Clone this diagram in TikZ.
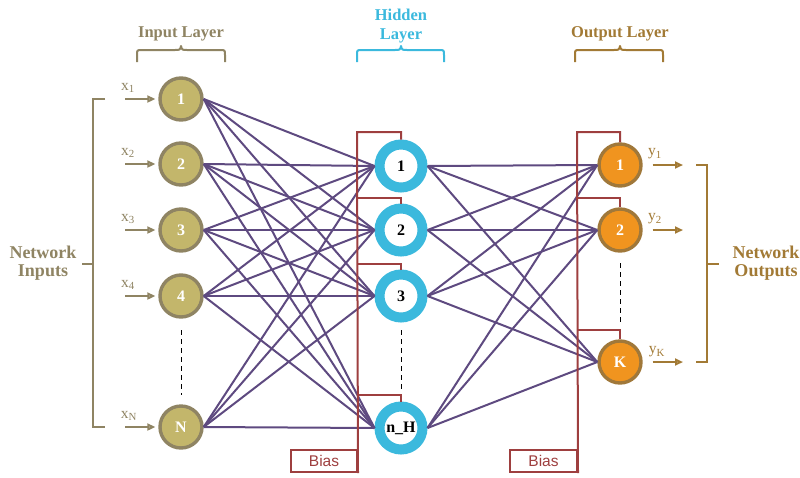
\documentclass[tikz,border=0pt]{standalone}
\usepackage{fontspec}
\setmainfont{Liberation Serif}
\newfontfamily\biasfont{Liberation Sans}
\usetikzlibrary{arrows.meta}
\definecolor{intan}{HTML}{8F8463}
\definecolor{infill}{HTML}{C3B66B}
\definecolor{linkpurple}{HTML}{5E4A80}
\definecolor{ringcyan}{HTML}{3BB9DD}
\definecolor{outfill}{HTML}{F0941F}
\definecolor{outborder}{HTML}{A0783A}
\definecolor{outgold}{HTML}{A27A35}
\definecolor{biasred}{HTML}{9E3F3F}
\begin{document}
\begin{tikzpicture}[x=1pt, y=-1pt,
    innode/.style={circle, draw=intan, fill=infill, line width=3.4pt, minimum size=42pt, inner sep=0pt,
        text=white, font=\fontsize{16}{16}\selectfont\bfseries},
    hidnode/.style={circle, draw=ringcyan, fill=white, line width=10pt, minimum size=43pt, inner sep=0pt,
        font=\fontsize{16}{16}\selectfont\bfseries},
    outnode/.style={circle, draw=outborder, fill=outfill, line width=3.4pt, minimum size=42pt, inner sep=0pt,
        text=white, font=\fontsize{16}{16}\selectfont\bfseries},
    link/.style={draw=linkpurple, line width=2pt},
    biasline/.style={draw=biasred, line width=2pt},
    inarrow/.style={draw=intan, line width=2.2pt, -{Triangle[open, length=8pt, width=7pt]}, shorten >=3pt},
    outarrow/.style={draw=outgold, line width=2.2pt, -{Triangle[open, length=8pt, width=7pt]}, shorten <=10pt},
    sublabel/.style={font=\fontsize{15.5}{15.5}\selectfont},
    title/.style={font=\fontsize{16.5}{19}\selectfont\bfseries, align=center},
    sidetitle/.style={font=\fontsize{18}{17.5}\selectfont\bfseries, align=center},
    dots/.style={draw=black, line width=1pt, dash pattern=on 5pt off 4pt},
    lbrace/.style={line width=2pt, line join=round}
    ]
    \useasboundingbox (0, 0) rectangle (800, 477);

    % layers
    \node[innode] (i1) at (181, 99) {1};
    \node[innode] (i2) at (181, 164) {2};
    \node[innode] (i3) at (181, 230) {3};
    \node[innode] (i4) at (181, 296) {4};
    \node[innode] (iN) at (181, 427) {N};

        \node[hidnode] (h1) at (401, 166) {1};
        \node[hidnode] (h2) at (401, 230) {2};
        \node[hidnode] (h3) at (401, 296) {3};
        \node[hidnode] (hH) at (401, 428) {n\_H};

    \node[outnode] (o1) at (620, 165) {1};
    \node[outnode] (o2) at (620, 230) {2};
    \node[outnode] (oK) at (620, 362) {K};

    \draw[dots] (181, 330) -- (181, 395);
    \draw[dots] (401, 330) -- (401, 390);
    \draw[dots] (620, 263) -- (620, 322);

    % input to hidden
        \draw[link] (i1.east) -- (h1.west);
        \draw[link] (i1.east) -- (h2.west);
        \draw[link] (i1.east) -- (h3.west);
        \draw[link] (i1.east) -- (hH.west);
        \draw[link] (i2.east) -- (h1.west);
        \draw[link] (i2.east) -- (h2.west);
        \draw[link] (i2.east) -- (h3.west);
        \draw[link] (i2.east) -- (hH.west);
        \draw[link] (i3.east) -- (h1.west);
        \draw[link] (i3.east) -- (h2.west);
        \draw[link] (i3.east) -- (h3.west);
        \draw[link] (i3.east) -- (hH.west);
        \draw[link] (i4.east) -- (h1.west);
        \draw[link] (i4.east) -- (h2.west);
        \draw[link] (i4.east) -- (h3.west);
        \draw[link] (i4.east) -- (hH.west);
        \draw[link] (iN.east) -- (h1.west);
        \draw[link] (iN.east) -- (h2.west);
        \draw[link] (iN.east) -- (h3.west);
        \draw[link] (iN.east) -- (hH.west);

    % hidden to output
        \draw[link] (h1.east) -- (o1.west);
        \draw[link] (h1.east) -- (o2.west);
        \draw[link] (h1.east) -- (oK.west);
        \draw[link] (h2.east) -- (o1.west);
        \draw[link] (h2.east) -- (o2.west);
        \draw[link] (h2.east) -- (oK.west);
        \draw[link] (h3.east) -- (o1.west);
        \draw[link] (h3.east) -- (o2.west);
        \draw[link] (h3.east) -- (oK.west);
        \draw[link] (hH.east) -- (o1.west);
        \draw[link] (hH.east) -- (o2.west);
        \draw[link] (hH.east) -- (oK.west);

    % bias
    \node[biasline, minimum width=66pt, minimum height=22pt, inner sep=0pt, text=biasred,
        font=\biasfont\fontsize{15.5}{15.5}\selectfont] (bh) at (324, 461) {Bias};
    \node[biasline, minimum width=67pt, minimum height=22pt, inner sep=0pt, text=biasred,
        font=\biasfont\fontsize{15.5}{15.5}\selectfont] (bo) at (543.5, 461) {Bias};
        \draw[biasline] (bh.south east) -- (357, 132) -- (401, 132) -- (h1.north);
        \draw[biasline] (357, 198) -- (401, 198) -- (h2.north);
        \draw[biasline] (357, 264) -- (401, 264) -- (h3.north);
        \draw[biasline] (357, 395) -- (401, 395) -- (hH.north);
        \draw[biasline] (bo.south east) -- (577, 132) -- (620, 132) -- (o1.north);
        \draw[biasline] (577, 198) -- (620, 198) -- (o2.north);
        \draw[biasline] (577, 330) -- (620, 330) -- (oK.north);

    % inputs
    \coordinate (x1) at (125, 99);
    \coordinate (x2) at (125, 164);
    \coordinate (x3) at (125, 230);
    \coordinate (x4) at (125, 296);
    \coordinate (xN) at (125, 427);
        \draw[inarrow] (x1) -- (i1);
        \draw[inarrow] (x2) -- (i2);
        \draw[inarrow] (x3) -- (i3);
        \draw[inarrow] (x4) -- (i4);
        \draw[inarrow] (xN) -- (iN);
    \node[sublabel, text=intan] (lx1) at (128, 88) {x\textsubscript{1}};
    \node[sublabel, text=intan] (lx2) at (128, 153) {x\textsubscript{2}};
    \node[sublabel, text=intan] (lx3) at (128, 219) {x\textsubscript{3}};
    \node[sublabel, text=intan] (lx4) at (128, 285) {x\textsubscript{4}};
    \node[sublabel, text=intan] (lxN) at (129, 416) {x\textsubscript{N}};

    % outputs
    \coordinate (y1) at (683, 165);
    \coordinate (y2) at (683, 230);
    \coordinate (yK) at (683, 362);
        \draw[outarrow] (o1) -- (y1);
        \draw[outarrow] (o2) -- (y2);
        \draw[outarrow] (oK) -- (yK);
    \node[sublabel, text=outgold] (ly1) at (655, 154) {y\textsubscript{1}};
    \node[sublabel, text=outgold] (ly2) at (655, 219) {y\textsubscript{2}};
    \node[sublabel, text=outgold] (lyK) at (657, 352) {y\textsubscript{K}};

    % side brackets
    \draw[intan, line width=2pt] (105, 99) -- (93, 99) -- (93, 427) -- (105, 427);
    \draw[intan, line width=2pt] (82, 264) -- (93, 264);
    \node[sidetitle, text=intan] (nin) at (43, 263) {Network\\Inputs};
    \draw[outgold, line width=2pt] (696, 165) -- (707, 165) -- (707, 362) -- (696, 362);
    \draw[outgold, line width=2pt] (707, 264) -- (719, 264);
    \node[sidetitle, text=outgold] (nout) at (766, 263) {Network\\Outputs};

    % layer braces
    \draw[lbrace, intan] (137, 62) -- (137, 55) .. controls (137, 50) .. (142, 50) -- (175, 50)
        .. controls (180, 50) .. (181, 46) .. controls (182, 50) .. (187, 50) -- (220, 50)
        .. controls (225, 50) .. (225, 55) -- (225, 62);
    \node[title, text=intan] (tin) at (181, 34) {Input Layer};
    \draw[lbrace, ringcyan] (357, 62) -- (357, 55) .. controls (357, 50) .. (362, 50) -- (395, 50)
        .. controls (400, 50) .. (401, 46) .. controls (402, 50) .. (407, 50) -- (439, 50)
        .. controls (444, 50) .. (444, 55) -- (444, 62);
    \node[title, text=ringcyan] (thid) at (401, 26) {Hidden\\Layer};
    \draw[lbrace, outgold] (575, 62) -- (575, 55) .. controls (575, 50) .. (580, 50) -- (614, 50)
        .. controls (619, 50) .. (620, 46) .. controls (621, 50) .. (626, 50) -- (658, 50)
        .. controls (663, 50) .. (663, 55) -- (663, 62);
    \node[title, text=outgold] (tout) at (620, 34) {Output Layer};
\end{tikzpicture}
\end{document}
